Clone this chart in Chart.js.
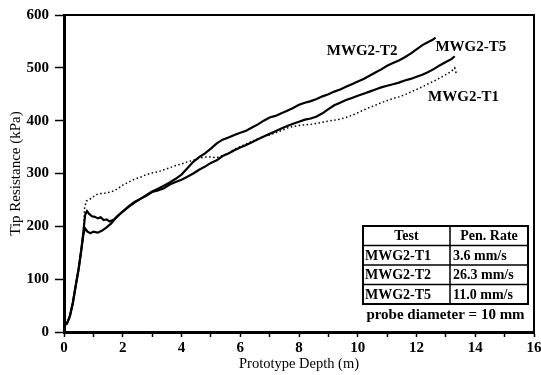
<!DOCTYPE html>
<html lang="en">
<head>
    <meta charset="UTF-8">
    <title>Tip Resistance vs Prototype Depth</title>
    <script src="https://cdn.jsdelivr.net/npm/chart.js"></script>
    <style>
        html, body { margin: 0; padding: 0; background: #fff; }
        #wrap { width: 541px; height: 375px; }
    </style>
</head>
<body>
    <div id="wrap"><canvas id="cptChart" width="541" height="375"></canvas></div>

    <script>
        // MWG2-T1 (3.6 mm/s), dotted
        const depthT1 = [0, 0.1, 0.2, 0.3, 0.4, 0.5, 0.6, 0.66, 0.7, 0.76, 0.85, 0.95, 1.1, 1.25, 1.4, 1.6, 1.8, 2.0, 2.2, 2.4, 2.6, 2.8, 3.0, 3.2, 3.4, 3.6, 3.8, 4.0, 4.2, 4.4, 4.6, 4.8, 5.0, 5.2, 5.4, 5.6, 5.8, 6.0, 6.2, 6.4, 6.6, 6.8, 7.0, 7.2, 7.4, 7.6, 7.8, 8.0, 8.2, 8.4, 8.6, 8.8, 9.0, 9.2, 9.4, 9.6, 9.8, 10.0, 10.2, 10.4, 10.6, 10.8, 11.0, 11.2, 11.4, 11.6, 11.8, 12.0, 12.2, 12.4, 12.6, 12.8, 13.0, 13.2, 13.3, 13.35];
        const tipT1 = [12, 16, 30, 55, 88, 120, 160, 185, 235, 248, 250, 254, 260, 262, 263, 265, 270, 278, 284, 289, 293, 298, 301, 303, 307, 311, 315, 318, 322, 325, 329, 331, 331, 330, 334, 339, 346, 351, 356, 361, 366, 370, 373, 377, 381, 386, 389, 391, 392, 393, 395, 397, 399, 401, 403, 406, 410, 415, 420, 425, 429, 434, 438, 442, 445, 449, 454, 459, 464, 470, 475, 481, 487, 494, 500, 490];

        // MWG2-T2 (26.3 mm/s), solid
        const depthT2 = [0, 0.1, 0.2, 0.3, 0.4, 0.5, 0.6, 0.66, 0.72, 0.78, 0.85, 0.95, 1.05, 1.15, 1.25, 1.35, 1.45, 1.55, 1.7, 1.85, 2.0, 2.2, 2.4, 2.6, 2.8, 3.0, 3.2, 3.4, 3.6, 3.8, 4.0, 4.2, 4.4, 4.6, 4.8, 5.0, 5.2, 5.4, 5.6, 5.8, 6.0, 6.2, 6.4, 6.6, 6.8, 7.0, 7.2, 7.4, 7.6, 7.8, 8.0, 8.2, 8.4, 8.6, 8.8, 9.0, 9.2, 9.4, 9.6, 9.8, 10.0, 10.2, 10.4, 10.6, 10.8, 11.0, 11.2, 11.4, 11.6, 11.8, 12.0, 12.2, 12.4, 12.55, 12.65];
        const tipT2 = [12, 16, 30, 55, 88, 120, 160, 190, 222, 229, 224, 219, 218, 215, 217, 212, 213, 209, 213, 221, 228, 237, 245, 252, 259, 266, 271, 277, 283, 290, 298, 310, 322, 331, 338, 347, 357, 364, 368, 373, 377, 381, 387, 393, 400, 406, 409, 414, 419, 424, 430, 434, 437, 441, 446, 450, 455, 459, 464, 469, 474, 479, 485, 491, 497, 504, 509, 514, 520, 527, 535, 543, 549, 553, 557];

        // MWG2-T5 (11.0 mm/s), solid
        const depthT5 = [0, 0.1, 0.2, 0.3, 0.4, 0.5, 0.6, 0.66, 0.72, 0.8, 0.9, 1.0, 1.15, 1.3, 1.45, 1.6, 1.8, 2.0, 2.2, 2.4, 2.6, 2.8, 3.0, 3.2, 3.4, 3.6, 3.8, 4.0, 4.2, 4.4, 4.6, 4.8, 5.0, 5.2, 5.4, 5.6, 5.8, 6.0, 6.2, 6.4, 6.6, 6.8, 7.0, 7.2, 7.4, 7.6, 7.8, 8.0, 8.2, 8.4, 8.6, 8.8, 9.0, 9.2, 9.4, 9.6, 9.8, 10.0, 10.2, 10.4, 10.6, 10.8, 11.0, 11.2, 11.4, 11.6, 11.8, 12.0, 12.2, 12.4, 12.6, 12.8, 13.0, 13.2, 13.3];
        const tipT5 = [12, 16, 30, 55, 88, 120, 160, 185, 196, 190, 187, 190, 188, 192, 198, 205, 218, 228, 238, 246, 252, 258, 265, 268, 272, 279, 284, 288, 294, 300, 307, 313, 320, 325, 333, 338, 344, 349, 354, 359, 365, 370, 375, 380, 385, 390, 394, 398, 402, 404, 408, 414, 422, 429, 434, 439, 443, 447, 451, 455, 459, 463, 466, 469, 472, 476, 479, 483, 487, 492, 498, 505, 511, 517, 522];

        // legend table content
        const tableHeader = ['Test', 'Pen. Rate'];
        const tableTests = ['MWG2-T1', 'MWG2-T2', 'MWG2-T5'];
        const tableRates = ['3.6 mm/s', '26.3 mm/s', '11.0 mm/s'];
        const tableNote = 'probe diameter = 10 mm';

        // curve labels, placed in data units
        const curveLabels = [
            { text: 'MWG2-T2', x: 10.15, y: 532 },
            { text: 'MWG2-T5', x: 13.85, y: 539 },
            { text: 'MWG2-T1', x: 13.6, y: 445 }
        ];

        const serif = '"Liberation Serif", "Times New Roman", serif';

        function pts(xs, ys) {
            return xs.map((d, i) => ({ x: d, y: ys[i] }));
        }

        const extras = {
            id: 'extras',
            afterDraw(chart) {
                const { ctx, chartArea: a, scales: { x, y } } = chart;
                ctx.save();
                ctx.strokeStyle = '#000';
                ctx.fillStyle = '#000';

                // top and right frame
                ctx.lineWidth = 2;
                ctx.beginPath();
                ctx.moveTo(a.left, a.top);
                ctx.lineTo(a.right, a.top);
                ctx.lineTo(a.right, a.bottom);
                ctx.stroke();

                // curve labels
                ctx.font = 'bold 15px ' + serif;
                ctx.textAlign = 'center';
                ctx.textBaseline = 'middle';
                curveLabels.forEach(l => {
                    ctx.fillText(l.text, x.getPixelForValue(l.x), y.getPixelForValue(l.y));
                });

                // table
                const left = a.right - 171, right = a.right - 6;
                const top = a.bottom - 106, rowH = 19.5;
                const mid = left + 87;
                const bottom = top + rowH * 4;
                ctx.lineWidth = 2;
                ctx.strokeRect(left, top, right - left, bottom - top);
                ctx.lineWidth = 1.5;
                ctx.beginPath();
                for (let r = 1; r < 4; r++) {
                    ctx.moveTo(left, top + rowH * r);
                    ctx.lineTo(right, top + rowH * r);
                }
                ctx.moveTo(mid, top);
                ctx.lineTo(mid, bottom);
                ctx.stroke();

                ctx.font = 'bold 14px ' + serif;
                ctx.textAlign = 'center';
                ctx.fillText(tableHeader[0], (left + mid) / 2, top + rowH / 2 + 1);
                ctx.fillText(tableHeader[1], (mid + right) / 2, top + rowH / 2 + 1);
                ctx.textAlign = 'left';
                tableTests.forEach((t, i) => {
                    const cy = top + rowH * (i + 1.5) + 1;
                    ctx.fillText(t, left + 2, cy);
                    ctx.fillText(tableRates[i], mid + 3, cy);
                });
                ctx.font = 'bold 15px ' + serif;
                ctx.textAlign = 'center';
                ctx.fillText(tableNote, (left + right) / 2, bottom + 11);
                ctx.restore();
            }
        };

        const ctx = document.getElementById('cptChart').getContext('2d');
        new Chart(ctx, {
            type: 'scatter',
            data: {
                datasets: [
                    {
                        label: 'MWG2-T1',
                        data: pts(depthT1, tipT1),
                        showLine: true,
                        borderColor: '#000',
                        borderWidth: 1.5,
                        borderDash: [1.5, 2.5],
                        pointRadius: 0
                    },
                    {
                        label: 'MWG2-T2',
                        data: pts(depthT2, tipT2),
                        showLine: true,
                        borderColor: '#000',
                        borderWidth: 2.2,
                        pointRadius: 0
                    },
                    {
                        label: 'MWG2-T5',
                        data: pts(depthT5, tipT5),
                        showLine: true,
                        borderColor: '#000',
                        borderWidth: 2.2,
                        pointRadius: 0
                    }
                ]
            },
            options: {
                responsive: false,
                animation: false,
                layout: { padding: { top: 13, right: 7, left: 0, bottom: 0 } },
                plugins: {
                    legend: { display: false },
                    tooltip: { enabled: false }
                },
                scales: {
                    x: {
                        type: 'linear',
                        min: 0,
                        max: 16,
                        afterFit(scale) {
                            scale.height = 43;
                            scale.paddingRight = 7;
                        },
                        ticks: {
                            stepSize: 1,
                            autoSkip: false,
                            maxRotation: 0,
                            padding: 2,
                            color: '#000',
                            font: { family: serif, size: 15, weight: 'bold' },
                            callback: v => (v % 2 === 0 ? v : '')
                        },
                        grid: {
                            drawOnChartArea: false,
                            drawTicks: true,
                            tickLength: 5,
                            tickWidth: 1.5,
                            tickColor: '#000'
                        },
                        border: { color: '#000', width: 3 },
                        title: {
                            display: true,
                            text: 'Prototype Depth (m)',
                            color: '#000',
                            font: { family: serif, size: 14.5 },
                            padding: { top: 0, bottom: 2 }
                        }
                    },
                    y: {
                        min: 0,
                        max: 600,
                        afterFit(scale) {
                            scale.width = 64;
                        },
                        ticks: {
                            stepSize: 100,
                            padding: 6,
                            color: '#000',
                            font: { family: serif, size: 15, weight: 'bold' }
                        },
                        grid: {
                            drawOnChartArea: false,
                            drawTicks: true,
                            tickLength: 9,
                            tickWidth: 1.5,
                            tickColor: '#000'
                        },
                        border: { color: '#000', width: 3 },
                        title: {
                            display: true,
                            text: 'Tip Resistance (kPa)',
                            color: '#000',
                            font: { family: serif, size: 15 },
                            padding: { top: 7, bottom: 0 }
                        }
                    }
                }
            },
            plugins: [extras]
        });
    </script>
</body>
</html>
